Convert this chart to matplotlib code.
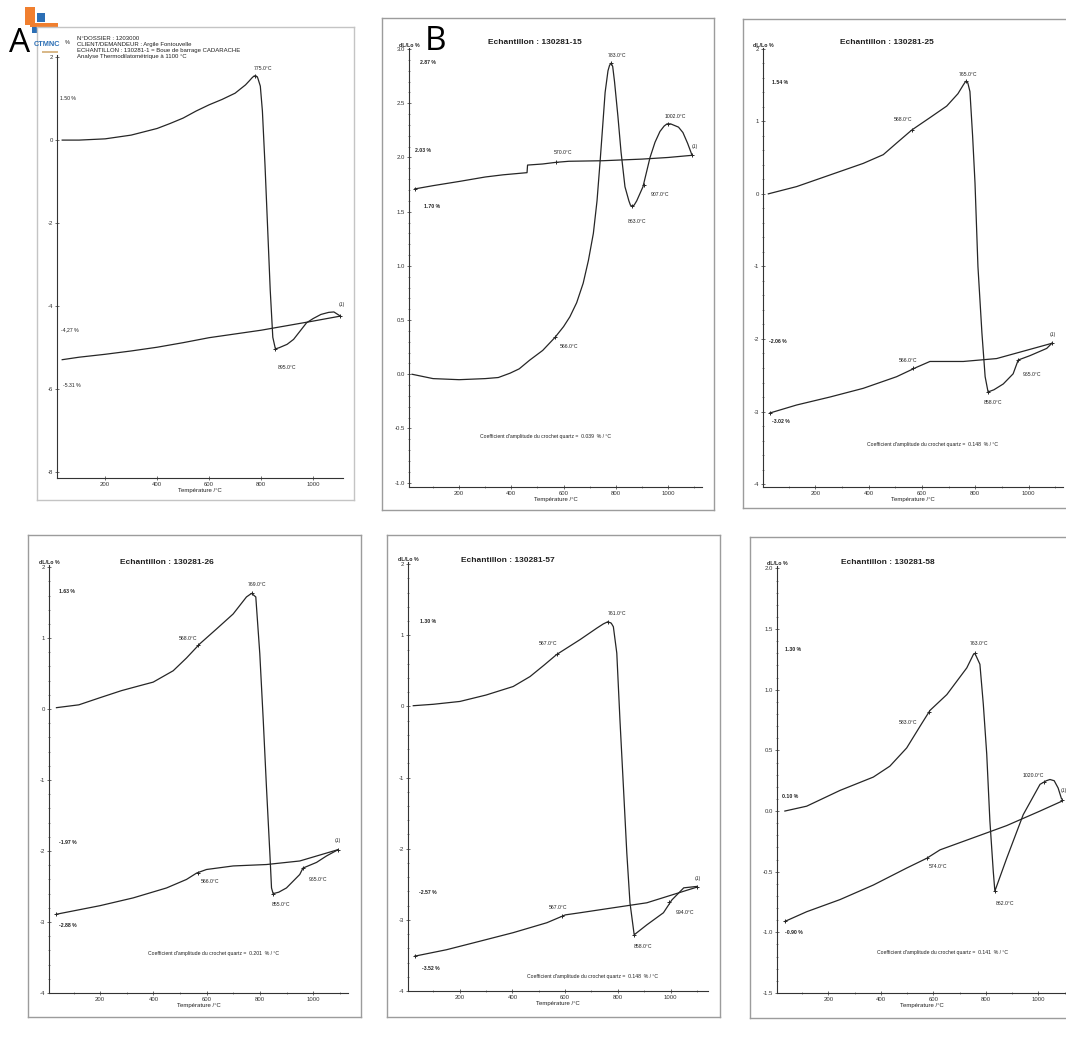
import matplotlib
matplotlib.use('Agg')
import matplotlib.pyplot as plt
from matplotlib.lines import Line2D
from matplotlib.patches import Rectangle

W, H = 1066, 1055

# values (T in degC, dL/Lo in %)
# A : 130281-1
a_heat_t = [35, 100, 200, 300, 400, 450, 500, 550, 600, 650, 700, 740, 755, 765, 772, 777, 782, 787, 797,
            805, 815, 825, 835, 845, 855, 870, 900, 925, 950, 975, 1000, 1030, 1060, 1080, 1095, 1105]
a_heat_v = [0.0, 0.0, 0.03, 0.12, 0.28, 0.4, 0.53, 0.7, 0.85, 0.98, 1.13, 1.33, 1.43, 1.5, 1.54, 1.55, 1.54, 1.5, 1.3,
            0.7, -0.6, -2.1, -3.6, -4.75, -5.03, -5.0, -4.92, -4.8, -4.6, -4.4, -4.3, -4.2, -4.15, -4.14, -4.2, -4.24]
a_cool_t = [1105, 1000, 900, 800, 700, 600, 500, 400, 300, 200, 100, 35]
a_cool_v = [-4.24, -4.36, -4.47, -4.58, -4.67, -4.76, -4.88, -4.99, -5.08, -5.16, -5.23, -5.29]
a_mark_t = [777, 855, 1105]
a_mark_v = [1.55, -5.03, -4.24]

# B : 130281-15
b_heat_t = [20, 60, 100, 200, 300, 350, 395, 430, 470, 520, 567, 600, 624, 650, 675, 695, 714, 728, 740, 750,
            759, 770, 776, 782, 788, 795, 808, 820, 835, 850, 856, 862, 870, 880, 904, 918, 931, 950, 969, 985,
            996, 1010, 1020, 1040, 1057, 1075, 1092]
b_heat_v = [0.0, -0.02, -0.04, -0.05, -0.04, -0.03, 0.01, 0.05, 0.13, 0.22, 0.34, 0.44, 0.53, 0.66, 0.84, 1.05, 1.3, 1.6, 1.97, 2.3,
            2.6, 2.8, 2.85, 2.87, 2.84, 2.7, 2.38, 2.05, 1.73, 1.6, 1.56, 1.55, 1.56, 1.6, 1.73, 1.87, 2.0, 2.14, 2.24, 2.29,
            2.31, 2.31, 2.3, 2.28, 2.23, 2.13, 2.02]
b_cool_t = [1092, 1000, 900, 750, 620, 570, 520, 462, 460, 368, 300, 203, 100, 30]
b_cool_v = [2.02, 2.0, 1.985, 1.97, 1.965, 1.955, 1.94, 1.93, 1.86, 1.84, 1.82, 1.78, 1.74, 1.71]
b_mark_t = [567, 782, 862, 907, 1000, 570, 1092, 30]
b_mark_v = [0.34, 2.87, 1.55, 1.75, 2.31, 1.955, 2.02, 1.71]

# C : 130281-25
c_heat_t = [24, 130, 255, 380, 455, 505, 562, 630, 693, 735, 755, 764, 772, 780, 790, 799, 810, 825, 837, 848,
            870, 905, 942, 961, 1005, 1068, 1087]
c_heat_v = [0.0, 0.1, 0.26, 0.42, 0.54, 0.7, 0.88, 1.05, 1.21, 1.38, 1.5, 1.55, 1.53, 1.41, 0.8, 0.15, -1.0, -1.92, -2.52, -2.73,
            -2.7, -2.62, -2.48, -2.29, -2.23, -2.13, -2.06]
c_cool_t = [1087, 880, 755, 630, 580, 505, 380, 255, 130, 30]
c_cool_v = [-2.06, -2.27, -2.31, -2.31, -2.39, -2.52, -2.68, -2.8, -2.91, -3.02]
c_mark_t = [562, 764, 848, 961, 565, 1087, 30]
c_mark_v = [0.88, 1.55, -2.73, -2.29, -2.4, -2.06, -3.02]

# D : 130281-26
d_heat_t = [36, 120, 199, 280, 349, 399, 474, 524, 574, 637, 699, 749, 768, 784, 799, 812, 824, 837, 843, 849,
            870, 899, 949, 961, 1012, 1049, 1093]
d_heat_v = [0.02, 0.06, 0.16, 0.26, 0.33, 0.38, 0.54, 0.72, 0.92, 1.13, 1.34, 1.58, 1.63, 1.58, 0.78, -0.16, -1.1, -2.05, -2.52, -2.6,
            -2.58, -2.52, -2.33, -2.24, -2.16, -2.07, -1.98]
d_cool_t = [1093, 949, 824, 699, 599, 562, 524, 449, 324, 199, 36]
d_cool_v = [-1.98, -2.14, -2.19, -2.21, -2.26, -2.31, -2.4, -2.52, -2.66, -2.77, -2.89]
d_mark_t = [568, 768, 849, 961, 566, 1093, 36]
d_mark_v = [0.9, 1.63, -2.6, -2.24, -2.31, -1.98, -2.89]

# E : 130281-57
e_heat_t = [24, 100, 201, 300, 403, 467, 520, 568, 657, 720, 745, 762, 775, 783, 796, 808, 821, 834, 846, 862,
            910, 973, 1005, 1050, 1100]
e_heat_v = [0.01, 0.03, 0.07, 0.16, 0.28, 0.42, 0.58, 0.73, 0.94, 1.1, 1.16, 1.19, 1.17, 1.12, 0.75, -0.19, -1.12, -2.06, -2.76, -3.21,
            -3.07, -2.9, -2.72, -2.55, -2.53]
e_cool_t = [1100, 910, 783, 657, 601, 531, 403, 277, 150, 30]
e_cool_v = [-2.54, -2.76, -2.83, -2.9, -2.93, -3.04, -3.18, -3.3, -3.42, -3.51]
e_mark_t = [568, 762, 862, 994, 590, 1100, 30]
e_mark_v = [0.73, 1.19, -3.21, -2.75, -2.94, -2.54, -3.51]

# F : 130281-58
f_heat_t = [34, 117, 244, 371, 434, 498, 555, 587, 651, 727, 752, 758, 777, 790, 803, 815, 828, 834,
            879, 942, 1006, 1030, 1044, 1060, 1075, 1088]
f_heat_v = [0.0, 0.04, 0.17, 0.28, 0.37, 0.52, 0.72, 0.83, 0.96, 1.18, 1.29, 1.3, 1.21, 0.88, 0.47, -0.08, -0.5, -0.66,
            -0.39, -0.03, 0.22, 0.25, 0.26, 0.25, 0.19, 0.1]
f_cool_t = [1088, 1006, 879, 803, 625, 574, 498, 371, 244, 117, 34]
f_cool_v = [0.08, 0.0, -0.12, -0.18, -0.32, -0.39, -0.47, -0.61, -0.73, -0.83, -0.91]
f_mark_t = [583, 758, 834, 1020, 574, 1088, 34]
f_mark_v = [0.82, 1.3, -0.66, 0.24, -0.39, 0.09, -0.91]

header_lines = ["N°DOSSIER : 1203000",
                "CLIENT/DEMANDEUR : Argile Fontouvelle",
                "ECHANTILLON : 130281-1 = Boue de barrage CADARACHE",
                "Analyse Thermodilatométrique à 1100 °C"]

LINE = '#262626'
TXT = '#202020'

plt.rcParams['font.family'] = ['Liberation Sans', 'DejaVu Sans']
fig = plt.figure(figsize=(W / 100, H / 100), dpi=100)
fig.patch.set_facecolor('white')


def to_fig(x, y):
    return x / W, 1 - y / H


def frame(x0, y0, x1, y1, sides='ltrb', color='#9c9c9c'):
    segs = {'l': ((x0, y0), (x0, y1)), 't': ((x0, y0), (x1, y0)),
            'r': ((x1, y0), (x1, y1)), 'b': ((x0, y1), (x1, y1))}
    for s in sides:
        pa, pb = segs[s]
        fa, fb = to_fig(*pa), to_fig(*pb)
        fig.add_artist(Line2D([fa[0], fb[0]], [fa[1], fb[1]], color=color, lw=1.0))


def ftext(x, y, s, **kw):
    fx, fy = to_fig(x, y)
    fig.text(fx, fy, s, **kw)


def make_axis(box, xlim, ylim, yticks, ylabels, yminor=None, xminor=True, unit=True):
    x0, y0, x1, y1 = box
    ax = fig.add_axes([x0 / W, 1 - y1 / H, (x1 - x0) / W, (y1 - y0) / H])
    ax.patch.set_alpha(0)
    ax.set_xlim(*xlim)
    ax.set_ylim(*ylim)
    ax.spines['top'].set_visible(False)
    ax.spines['right'].set_visible(False)
    for s in ('left', 'bottom'):
        ax.spines[s].set_linewidth(0.8)
        ax.spines[s].set_color('#333333')
    ax.set_xticks([200, 400, 600, 800, 1000])
    ax.set_yticks(yticks)
    ax.set_yticklabels(ylabels)
    if xminor:
        ax.set_xticks(range(100, 1200, 100), minor=True)
    if yminor is not None:
        ax.set_yticks(yminor, minor=True)
    ax.tick_params(which='major', labelsize=4.3, length=3, width=0.5, direction='inout',
                   pad=1.5, colors='#333333')
    ax.tick_params(which='minor', length=1.6, width=0.4, direction='inout', colors='#333333')
    ax.set_xlabel('Température /°C', fontsize=4.3, labelpad=0.5, color=TXT)
    if unit:
        ax.text(0, 1.0, 'dL/Lo %', transform=ax.transAxes, fontsize=3.8, weight='bold',
                ha='center', va='bottom', color=TXT)
    return ax


def curves(ax, heat_t, heat_v, cool_t, cool_v, mark_t, mark_v):
    ax.plot(heat_t, heat_v, color=LINE, lw=0.9, clip_on=False)
    ax.plot(cool_t, cool_v, color=LINE, lw=0.9, clip_on=False)
    ax.plot(mark_t, mark_v, ls='none', marker='+', ms=3, mew=0.7, color=LINE, clip_on=False)


def note(ax, s, t, v, bold=False, size=3.7, ha='center'):
    ax.text(t, v, s, fontsize=size, ha=ha, va='center', color=TXT,
            weight='bold' if bold else 'normal', clip_on=False)


coef_txt = "Coefficient d'amplitude du crochet quartz =  {}  % / °C"

# ---- A
frame(37, 27, 354, 500, color='#c4c4c4')
ax = make_axis((57, 55, 343, 478), (15, 1115), (-8.14, 2.05),
               [2, 0, -2, -4, -6, -8], ['2', '0', '-2', '-4', '-6', '-8'], xminor=False, unit=False)
curves(ax, a_heat_t, a_heat_v, a_cool_t, a_cool_v, a_mark_t, a_mark_v)
note(ax, '775.0°C', 808, 1.73)
note(ax, '895.0°C', 900, -5.47)
note(ax, '(1)', 1110, -3.95)
note(ax, '1.50 %', 58, 1.01)
note(ax, '-4,27 %', 65, -4.58)
note(ax, '-5.31 %', 73, -5.9)
ftext(77, 36, '\n'.join(header_lines), fontsize=4.3, va='top', ha='left',
      linespacing=1.25, color=TXT)
ftext(67, 42, '%', fontsize=4, ha='center', va='center', color=TXT)

# CTMNC logo and panel letter
for (x0, y0, x1, y1, col) in [(25, 7, 35, 25, '#f07f2f'), (37, 13, 45, 22, '#2c6fb5'),
                              (30, 23, 58, 27, '#f07f2f'), (32, 27, 38, 33, '#2c6fb5'),
                              (42, 51, 58, 53, '#d9b98a')]:
    fx, fy = to_fig(x0, y1)
    fig.add_artist(Rectangle((fx, fy), (x1 - x0) / W, (y1 - y0) / H,
                             transform=fig.transFigure, color=col, lw=0))
ftext(47, 44, 'CTMNC', fontsize=5.3, weight='bold', color='#2c6fb5', ha='center', va='center')
ftext(20, 44, 'A', fontsize=24, family='Open Sans', color='black', ha='center', va='center')

# ---- B
frame(382, 18, 714, 510)
ax = make_axis((409, 48, 702, 487), (8, 1130), (-1.04, 3.01),
               [3.0, 2.5, 2.0, 1.5, 1.0, 0.5, 0.0, -0.5, -1.0],
               ['3.0', '2.5', '2.0', '1.5', '1.0', '0.5', '0.0', '-0.5', '-1.0'],
               yminor=[i / 10 for i in range(-10, 31)])
curves(ax, b_heat_t, b_heat_v, b_cool_t, b_cool_v, b_mark_t, b_mark_v)
note(ax, '783.0°C', 805, 2.94)
note(ax, '1002.0°C', 1027, 2.38)
note(ax, '(1)', 1103, 2.1)
note(ax, '570.0°C', 598, 2.05)
note(ax, '907.0°C', 969, 1.66)
note(ax, '863.0°C', 880, 1.41)
note(ax, '566.0°C', 621, 0.26)
note(ax, '2.87 %', 80, 2.88, bold=True)
note(ax, '2.03 %', 60, 2.06, bold=True)
note(ax, '1.70 %', 95, 1.55, bold=True)
note(ax, coef_txt.format('0.039'), 530, -0.57)
ftext(535, 42, 'Echantillon : 130281-15', fontsize=6, weight='bold', ha='center', va='center', color=TXT)
ftext(435, 41, 'B', fontsize=24, family='Open Sans', color='black', ha='center', va='center')

# ---- C
frame(743, 19, 1070, 508, sides='ltb')
ax = make_axis((763, 48, 1063, 487), (4, 1129), (-4.04, 2.01),
               [2, 1, 0, -1, -2, -3, -4], ['2', '1', '0', '-1', '-2', '-3', '-4'],
               yminor=[i / 5 for i in range(-20, 11)])
curves(ax, c_heat_t, c_heat_v, c_cool_t, c_cool_v, c_mark_t, c_mark_v)
note(ax, '765.0°C', 773, 1.64)
note(ax, '568.0°C', 529, 1.02)
note(ax, '566.0°C', 548, -2.29)
note(ax, '858.0°C', 867, -2.87)
note(ax, '965.0°C', 1013, -2.49)
note(ax, '(1)', 1092, -1.94)
note(ax, '1.54 %', 68, 1.54, bold=True)
note(ax, '-2.06 %', 60, -2.04, bold=True)
note(ax, '-3.02 %', 70, -3.14, bold=True)
note(ax, coef_txt.format('0.148'), 640, -3.46)
ftext(887, 43, 'Echantillon : 130281-25', fontsize=6, weight='bold', ha='center', va='center', color=TXT)

# ---- D
frame(28, 535, 361, 1017)
ax = make_axis((49, 565, 348, 993), (8, 1130), (-4.0, 2.03),
               [2, 1, 0, -1, -2, -3, -4], ['2', '1', '0', '-1', '-2', '-3', '-4'],
               yminor=[i / 5 for i in range(-20, 11)])
curves(ax, d_heat_t, d_heat_v, d_cool_t, d_cool_v, d_mark_t, d_mark_v)
note(ax, '769.0°C', 787, 1.75)
note(ax, '568.0°C', 530, 1.0)
note(ax, '566.0°C', 612, -2.43)
note(ax, '855.0°C', 880, -2.75)
note(ax, '965.0°C', 1017, -2.4)
note(ax, '(1)', 1092, -1.85)
note(ax, '1.63 %', 75, 1.66, bold=True)
note(ax, '-1.97 %', 80, -1.88, bold=True)
note(ax, '-2.88 %', 80, -3.05, bold=True)
note(ax, coef_txt.format('0.201'), 624, -3.44)
ftext(167, 563, 'Echantillon : 130281-26', fontsize=6, weight='bold', ha='center', va='center', color=TXT)

# ---- E
frame(387, 535, 720, 1017)
ax = make_axis((408, 562, 708, 991), (4, 1142), (-4.0, 2.03),
               [2, 1, 0, -1, -2, -3, -4], ['2', '1', '0', '-1', '-2', '-3', '-4'],
               yminor=[i / 5 for i in range(-20, 11)])
curves(ax, e_heat_t, e_heat_v, e_cool_t, e_cool_v, e_mark_t, e_mark_v)
note(ax, '761.0°C', 797, 1.3)
note(ax, '567.0°C', 535, 0.88)
note(ax, '567.0°C', 573, -2.82)
note(ax, '858.0°C', 896, -3.38)
note(ax, '994.0°C', 1055, -2.9)
note(ax, '(1)', 1104, -2.42)
note(ax, '1.30 %', 80, 1.2, bold=True)
note(ax, '-2.57 %', 80, -2.62, bold=True)
note(ax, '-3.52 %', 90, -3.69, bold=True)
note(ax, coef_txt.format('0.148'), 702, -3.8)
ftext(508, 560, 'Echantillon : 130281-57', fontsize=6, weight='bold', ha='center', va='center', color=TXT)

# ---- F
frame(750, 537, 1070, 1018, sides='ltb')
ax = make_axis((777, 566, 1066, 993), (4, 1105), (-1.5, 2.02),
               [2.0, 1.5, 1.0, 0.5, 0.0, -0.5, -1.0, -1.5],
               ['2.0', '1.5', '1.0', '0.5', '0.0', '-0.5', '-1.0', '-1.5'],
               yminor=[i / 10 for i in range(-15, 21)])
curves(ax, f_heat_t, f_heat_v, f_cool_t, f_cool_v, f_mark_t, f_mark_v)
note(ax, '763.0°C', 773, 1.38)
note(ax, '583.0°C', 503, 0.73)
note(ax, '1020.0°C', 980, 0.29)
note(ax, '574.0°C', 617, -0.46)
note(ax, '862.0°C', 872, -0.76)
note(ax, '(1)', 1096, 0.17)
note(ax, '1.30 %', 65, 1.33, bold=True)
note(ax, '0.10 %', 53, 0.12, bold=True)
note(ax, '-0.90 %', 70, -1.0, bold=True)
note(ax, coef_txt.format('0.141'), 636, -1.17)
ftext(888, 563, 'Echantillon : 130281-58', fontsize=6, weight='bold', ha='center', va='center', color=TXT)

fig.savefig('out.png', dpi=100, facecolor='white')
